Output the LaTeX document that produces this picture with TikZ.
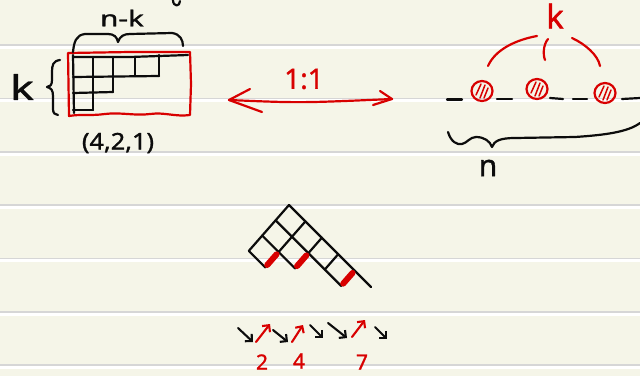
\documentclass[tikz,border=0pt]{standalone}
\usepackage{fontspec}
\setmainfont{Noto Sans}
\newfontfamily\handfont[FakeBold=1.2]{Noto Sans}
\usetikzlibrary{arrows.meta}
\definecolor{paper}{RGB}{245,245,232}
\definecolor{ruling}{RGB}{214,214,214}
\definecolor{ink}{RGB}{12,12,12}
\definecolor{pen}{RGB}{216,0,0}
\begin{document}
\begin{tikzpicture}[x=1pt,y=-1pt,line cap=round,line join=round,
  blk/.style={draw=ink,line width=2.2pt},
  redpen/.style={draw=pen,line width=2.2pt},
  fatred/.style={draw=pen,line width=6pt},
  hand/.style={inner sep=0pt,text=ink},
  redhand/.style={inner sep=0pt,text=pen},
  smallarrow/.style={-{Straight Barb[length=5pt,width=10pt]},line width=2.1pt},
]
% paper
\fill[paper] (0,0) rectangle (640,376);
\useasboundingbox (0,0) rectangle (640,376);
\foreach \y in {45,98.5,152,205,258.5,312,365}{
  \fill[white] (0,\y) rectangle (640,\y+3.5);
  \draw[ruling,line width=1.3pt,line cap=butt] (0,\y) -- (640,\y);
}
% fragment at top edge
\draw[blk] (173,0) .. controls (173,7) and (180,7) .. (180,1);

% ---------- left: partition in a box ----------
\draw[redpen] (68,53) -- (130,52) -- (190,52) -- (191,84) -- (190,115)
  .. controls (175,117) and (165,112) .. (150,114)
  .. controls (135,116) and (120,112) .. (105,114)
  .. controls (90,116) and (80,114) .. (69,116) -- cycle;
% grid
\draw[blk] (73,57) -- (130,57) -- (188,55);
\draw[blk] (73,77) -- (159,76);
\draw[blk] (73,93) -- (113,92);
\draw[blk] (73,110) -- (93,110);
\draw[blk] (73,55) -- (74,113);
\draw[blk] (93,57) -- (93,110);
\draw[blk] (113,57) -- (113,92);
\draw[blk] (135,57) -- (135,76);
\draw[blk] (159,55) -- (159,76);
% brace over the box
\draw[blk] (73,52) .. controls (74,42) and (76,35) .. (85,34)
  -- (108,34) .. controls (114,34) and (117,37) .. (118,42)
  .. controls (120,36) and (124,34) .. (130,34)
  -- (172,33) .. controls (180,34) and (183,40) .. (183,46);
\node[hand,font=\handfont\fontsize{22}{24}\selectfont,xscale=1.35] (nk) at (122,18) {n-k};
% left brace
\draw[blk] (60,60) .. controls (53,61) and (52,65) .. (52,72)
  -- (52,80) .. controls (52,85) and (50,87) .. (47,87)
  .. controls (51,88) and (53,90) .. (53,96)
  -- (53,109) .. controls (53,113) and (55,115) .. (58,115);
\node[hand,font=\handfont\fontsize{34}{36}\selectfont,xscale=1.3] (kleft) at (22,87) {k};
\node[hand,font=\handfont\fontsize{23}{26}\selectfont,xscale=1.1] (tuple) at (118,143) {(4,2,1)};

% ---------- middle: bijection arrow ----------
\node[redhand,font=\handfont\fontsize{28}{30}\selectfont] (ratio) at (304,79) {1:1};
\coordinate (ltip) at (229,100);
\coordinate (rtip) at (392,99);
\draw[redpen] (ltip) .. controls (300,103) .. (rtip);
\draw[redpen] (250,89) -- (ltip) -- (262,112);
\draw[redpen] (380,91) -- (rtip) -- (373,105);

% ---------- right: k marked positions among n ----------
\node[redhand,font=\handfont\fontsize{33}{35}\selectfont] (kright) at (555,16) {k};
\draw[redpen] (488,66) .. controls (495,50) and (515,40) .. (537,36);
\draw[redpen] (548,39) .. controls (543,45) and (543,55) .. (545,60);
\draw[redpen] (572,38) .. controls (585,44) and (598,55) .. (600,66);
\foreach \cx/\cy in {482/91,537/89,605/93}{
  \begin{scope}[shift={(\cx pt,-\cy pt)}]
    \draw[redpen] (0,0) ellipse [x radius=10.5, y radius=10];
    \draw[draw=pen,line width=1.5pt] (-6,4) -- (-1,-7);
    \draw[draw=pen,line width=1.5pt] (-2,7) -- (3,-6);
    \draw[draw=pen,line width=1.5pt] (2,7) -- (6,-3);
  \end{scope}
}
\draw[blk] (447,99.5) -- (462,99.5);
\draw[blk] (497,99) -- (512,99);
\draw[blk] (550,98) -- (563,99);
\draw[blk] (573,99) -- (587,99);
\draw[blk] (622,99) -- (640,98);
% brace under
\draw[blk] (448,132) .. controls (451,142) and (457,145) .. (462,144)
  .. controls (467,143) and (470,137) .. (476,137)
  .. controls (484,137) and (490,141) .. (492,147)
  .. controls (494,141) and (500,138) .. (515,138)
  -- (575,137) .. controls (605,135) and (628,132) .. (640,123);
\node[hand,font=\handfont\fontsize{30}{32}\selectfont] (nright) at (488,168) {n};

% ---------- bottom: rotated diagram ----------
\begin{scope}[shift={(289pt,-205pt)},x={(16.4pt,-16.4pt)},y={(-13.4pt,-15.3pt)}]
  \draw[blk] (0,0) -- (5,0);
  \draw[blk] (0,1) -- (4,1);
  \draw[blk] (0,2) -- (2,2);
  \draw[blk] (0,3) -- (1,3);
  \draw[blk] (0,0) -- (0,3);
  \draw[blk] (1,0) -- (1,3);
  \draw[blk] (2,0) -- (2,2);
  \draw[blk] (3,0) -- (3,1);
  \draw[blk] (4,0) -- (4,1);
  \draw[fatred] (1,2.85) -- (1,2.15);
  \draw[fatred] (2,1.85) -- (2,1.15);
  \draw[fatred] (4,0.85) -- (4,0.15);
\end{scope}

% ---------- bottom: step sequence ----------
\draw[smallarrow,ink] (238,328) -- (253,342);
\draw[smallarrow,pen] (256,342) -- (270,324);
\draw[smallarrow,ink] (273,330) -- (288,342);
\draw[smallarrow,pen] (292,342) -- (303,325);
\draw[smallarrow,ink] (310,325) -- (323,338);
\draw[smallarrow,ink] (328,323) -- (347,338);
\draw[smallarrow,pen] (352,337) -- (365,320);
\draw[smallarrow,ink] (375,327) -- (387,339);
\node[redhand,font=\handfont\fontsize{21}{23}\selectfont] (two) at (262,362) {2};
\node[redhand,font=\handfont\fontsize{21}{23}\selectfont] (four) at (299,361) {4};
\node[redhand,font=\handfont\fontsize{21}{23}\selectfont] (seven) at (362,362) {7};
\end{tikzpicture}
\end{document}
